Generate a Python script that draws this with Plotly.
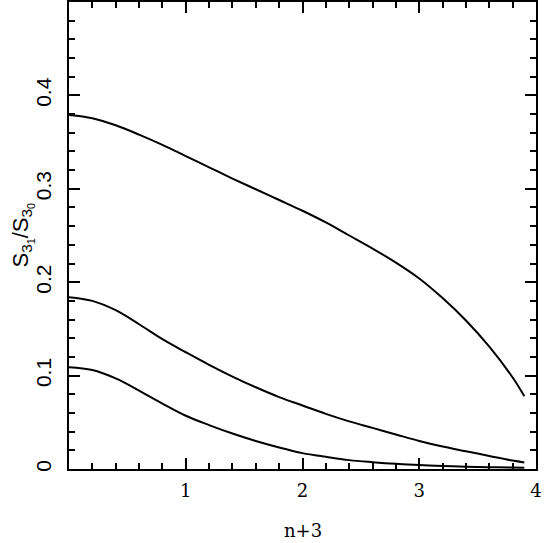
import plotly.graph_objects as go

x_vals = [0, 0.2, 0.4, 0.6, 0.8, 1.0, 1.2, 1.4, 1.6, 1.8, 2.0, 2.2, 2.4, 2.6, 2.8,
          3.0, 3.2, 3.4, 3.6, 3.8, 3.9]
top_curve = [0.379, 0.3755, 0.368, 0.358, 0.347, 0.335, 0.323, 0.311, 0.2995, 0.288,
             0.2765, 0.264, 0.250, 0.236, 0.221, 0.204, 0.183, 0.159, 0.131, 0.098, 0.078]
mid_curve = [0.184, 0.180, 0.170, 0.155, 0.139, 0.125, 0.1115, 0.099, 0.0875, 0.077,
             0.068, 0.059, 0.051, 0.044, 0.037, 0.030, 0.024, 0.019, 0.014, 0.009, 0.007]
low_curve = [0.109, 0.106, 0.097, 0.084, 0.070, 0.057, 0.047, 0.038, 0.030, 0.023,
             0.017, 0.013, 0.0095, 0.0073, 0.0055, 0.0042, 0.0032, 0.0024, 0.0019, 0.0015, 0.0014]

x_ticks = [1, 2, 3, 4]
y_ticks = [0, 0.1, 0.2, 0.3, 0.4]
y_ticktext = ["0", "0.1", "0.2", "0.3", "0.4"]
x_title = "n+3"
y_title = "S<sub>3<sub>1</sub></sub>/S<sub>3<sub>0</sub></sub>"

fig = go.Figure()
for ys in (top_curve, mid_curve, low_curve):
    fig.add_trace(go.Scatter(x=x_vals, y=ys, mode="lines",
                             line=dict(color="black", width=2, shape="spline", smoothing=1.0),
                             showlegend=False, hoverinfo="skip"))

axis_common = dict(showline=True, linecolor="black", linewidth=2, mirror="ticks",
                   ticks="inside", tickcolor="black", tickwidth=2, ticklen=11,
                   showgrid=False, zeroline=False, automargin=False)

fig.update_layout(
    width=544, height=543,
    margin=dict(l=69, r=8, t=2, b=74),
    paper_bgcolor="white", plot_bgcolor="white",
    xaxis=dict(range=[0, 4], tickmode="array", tickvals=x_ticks,
               ticktext=[str(v) for v in x_ticks],
               tickfont=dict(family="DejaVu Serif", size=18, color="black"),
               ticklabelstandoff=4,
               minor=dict(tickmode="linear", tick0=0, dtick=0.2, ticks="inside",
                          ticklen=6, tickwidth=2, tickcolor="black"),
               **axis_common),
    yaxis=dict(range=[0, 0.5], tickmode="array", tickvals=y_ticks, ticktext=y_ticktext,
               tickangle=-90,
               tickfont=dict(family="Liberation Sans", size=21, color="black"),
               ticklabelstandoff=8,
               minor=dict(tickmode="linear", tick0=0, dtick=0.02, ticks="inside",
                          ticklen=6, tickwidth=2, tickcolor="black"),
               **axis_common),
    annotations=[
        dict(text=x_title, xref="paper", yref="paper", x=0.5, y=0,
             xanchor="center", yanchor="middle", yshift=-61, showarrow=False,
             font=dict(family="DejaVu Serif", size=18, color="black")),
        dict(text=y_title, xref="paper", yref="paper", x=0, y=0.5,
             xanchor="center", yanchor="middle", xshift=-47, textangle=-90,
             showarrow=False,
             font=dict(family="Liberation Sans", size=22, color="black")),
    ],
)

fig.write_html("out.html", config={"displayModeBar": False},
               post_script="document.body.style.margin='0';document.body.style.overflow='hidden';")
